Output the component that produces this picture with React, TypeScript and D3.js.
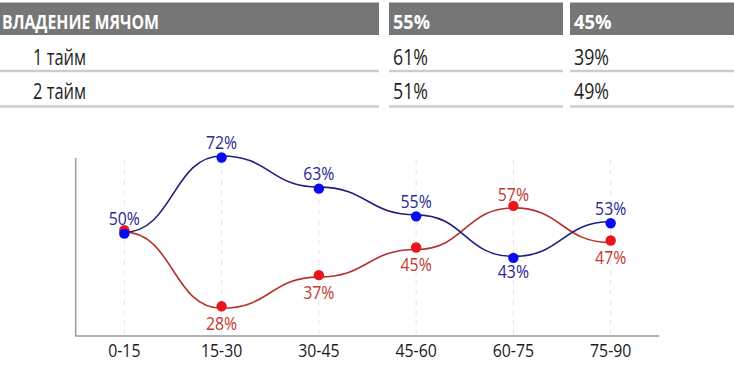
import React from "react";
import * as d3 from "d3";

const categories = ["0-15", "15-30", "30-45", "45-60", "60-75", "75-90"];
const blueValues = [50, 72, 63, 55, 43, 53];
const redValues = [50, 28, 37, 45, 57, 47];

const tableLabels = ["ВЛАДЕНИЕ МЯЧОМ", "1 тайм", "2 тайм"];
const teamAValues = ["55%", "61%", "51%"];
const teamBValues = ["45%", "39%", "49%"];

const FONT = "'Open Sans', 'Noto Sans', sans-serif";

const W = 734;
const H = 376;

const x = d3.scalePoint<string>().domain(categories).range([75.7, 659.3]).padding(0.5);
const y = d3.scaleLinear().domain([20, 72]).range([336, 156]);

const line = d3
  .line<number>()
  .x((_, i) => x(categories[i]) as number)
  .y((d) => y(d))
  .curve(d3.curveBumpX);

const BLUE_LINE = "#1f1f7e";
const BLUE_PT = "#0b0bef";
const BLUE_TXT = "#2a2a96";
const RED_LINE = "#b3322d";
const RED_PT = "#e8151b";
const RED_TXT = "#c23a30";

const cells = [
  { x0: 0, x1: 379, tx: 2 },
  { x0: 389, x1: 563, tx: 393 },
  { x0: 570, x1: 734, tx: 574 },
];

const SX = 0.855;

function T(props: {
  x: number;
  y: number;
  children: React.ReactNode;
  size: number;
  fill: string;
  anchor?: string;
  weight?: string;
  sx?: number;
}) {
  const sx = props.sx ?? SX;
  return (
    <text
      transform={`translate(${props.x},${props.y}) scale(${sx},1)`}
      textAnchor={props.anchor || "start"}
      fontSize={props.size}
      fill={props.fill}
      fontWeight={props.weight || "normal"}
    >
      {props.children}
    </text>
  );
}

export default function App() {
  const rowBaselines = [65, 98.5];
  const sepY = [71, 106.5];
  const headerLens = [157, 37, 37.5];
  const rowLabelLen = 53;
  const rowValLen = 35;
  return (
    <svg
      width={W}
      height={H}
      style={{ position: "absolute", left: 0, top: 0, display: "block", background: "#fff" }}
      fontFamily={FONT}
    >
      {/* Table header */}
      {cells.map((c, i) => (
        <rect key={"h" + i} x={c.x0} y={2.5} width={c.x1 - c.x0} height={32.5} fill="#767676" />
      ))}
      {[tableLabels[0], teamAValues[0], teamBValues[0]].map((t, i) => (
        <text
          key={"ht" + i}
          x={cells[i].tx}
          y={28.5}
          fill="#fff"
          fontWeight="bold"
          fontSize={19.5}
          textLength={headerLens[i]}
          lengthAdjust="spacingAndGlyphs"
        >
          {t}
        </text>
      ))}

      {/* Table rows */}
      {[1, 2].map((r, ri) => (
        <g key={"r" + r}>
          <text
            x={33}
            y={rowBaselines[ri]}
            fill="#1e1e1e"
            fontSize={21}
            textLength={rowLabelLen}
            lengthAdjust="spacingAndGlyphs"
          >
            {tableLabels[r]}
          </text>
          <text
            x={cells[1].tx}
            y={rowBaselines[ri]}
            fill="#1e1e1e"
            fontSize={21}
            textLength={rowValLen}
            lengthAdjust="spacingAndGlyphs"
          >
            {teamAValues[r]}
          </text>
          <text
            x={cells[2].tx}
            y={rowBaselines[ri]}
            fill="#1e1e1e"
            fontSize={21}
            textLength={rowValLen}
            lengthAdjust="spacingAndGlyphs"
          >
            {teamBValues[r]}
          </text>
          {cells.map((c, i) => (
            <line
              key={"s" + i}
              x1={c.x0}
              x2={c.x1}
              y1={sepY[ri]}
              y2={sepY[ri]}
              stroke="#cdcdcd"
              strokeWidth={2.5}
            />
          ))}
        </g>
      ))}

      {/* Grid lines */}
      {categories.map((c) => (
        <line
          key={"g" + c}
          x1={x(c)}
          x2={x(c)}
          y1={160}
          y2={336}
          stroke="#e4e4e4"
          strokeWidth={1}
          strokeDasharray="5,5"
        />
      ))}

      {/* Axes */}
      <line x1={75.7} x2={75.7} y1={158} y2={336} stroke="#9a9a9a" strokeWidth={1.5} />
      <line x1={75} x2={659.3} y1={336} y2={336} stroke="#9a9a9a" strokeWidth={1.5} />
      {categories.map((c) => (
        <T key={"t" + c} x={x(c) as number} y={356.7} anchor="middle" size={18.5} fill="#1a1a1a">
          {c}
        </T>
      ))}

      {/* Lines */}
      <path d={line(redValues) || ""} fill="none" stroke={RED_LINE} strokeWidth={1.6} />
      <path d={line(blueValues) || ""} fill="none" stroke={BLUE_LINE} strokeWidth={1.6} />

      {/* Points */}
      {redValues.map((v, i) => (
        <circle key={"rp" + i} cx={x(categories[i])} cy={y(v) - 2} r={5.2} fill={RED_PT} />
      ))}
      {blueValues.map((v, i) => (
        <circle key={"bp" + i} cx={x(categories[i])} cy={y(v) + 1.5} r={5.2} fill={BLUE_PT} />
      ))}

      {/* Labels */}
      {blueValues.map((v, i) => {
        const above = v >= redValues[i];
        const cy = y(v);
        return (
          <T
            key={"bl" + i}
            x={x(categories[i]) as number}
            y={above ? cy - 7 : cy + 21.5}
            anchor="middle"
            size={18.5}
            fill={BLUE_TXT}
          >
            {v + "%"}
          </T>
        );
      })}
      {redValues.map((v, i) => {
        if (v === blueValues[i]) return null;
        const above = v > blueValues[i];
        const cy = y(v);
        return (
          <T
            key={"rl" + i}
            x={x(categories[i]) as number}
            y={above ? cy - 7 : cy + 21.5}
            anchor="middle"
            size={18.5}
            fill={RED_TXT}
          >
            {v + "%"}
          </T>
        );
      })}
    </svg>
  );
}
